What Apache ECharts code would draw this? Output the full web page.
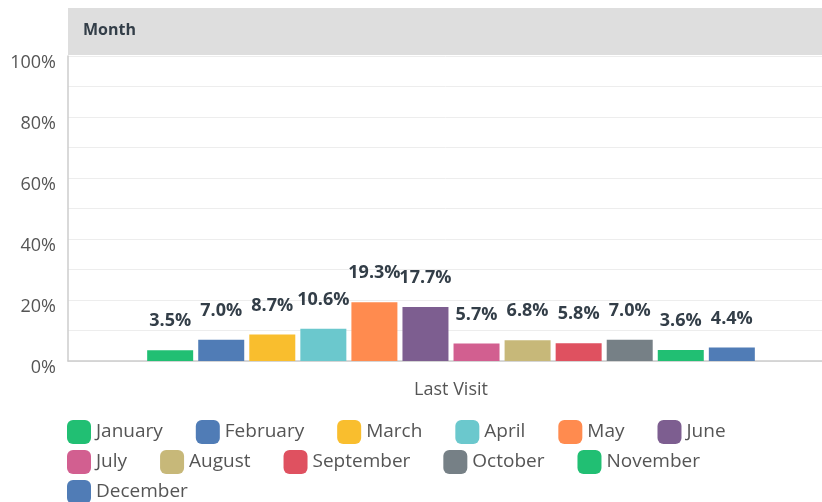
<!DOCTYPE html>
<html>
<head>
<meta charset="utf-8">
<script src="https://cdn.jsdelivr.net/npm/echarts@6/dist/echarts.min.js"></script>
<style>
  html, body { margin: 0; padding: 0; background: #fff; }
  #chart { width: 822px; height: 502px; }
</style>
</head>
<body>
<div id="chart"></div>
<script>
// 数据：Last Visit 按月份分布（%）
const categories = ['Last Visit'];
const months = ['January', 'February', 'March', 'April', 'May', 'June',
  'July', 'August', 'September', 'October', 'November', 'December'];
const values = [3.5, 7.0, 8.7, 10.6, 19.3, 17.7, 5.7, 6.8, 5.8, 7.0, 3.6, 4.4];
const colors = ['#21bf73', '#507cb6', '#f9be2e', '#6bc8cd', '#ff8b4f', '#7d5e90',
  '#d25f90', '#c7b879', '#df5160', '#768086', '#21bf73', '#507cb6'];
const yTicks = [0, 20, 40, 60, 80, 100];
const headerTitle = 'Month';
// 图例分三行
const legendRows = [months.slice(0, 6), months.slice(6, 11), months.slice(11)];

const FONT = '"Open Sans", sans-serif';

const chart = echarts.init(document.getElementById('chart'), null, { renderer: 'canvas' });

const series = months.map((m, i) => ({
  type: 'bar',
  name: m,
  data: [values[i]],
  barWidth: 46,
  barGap: '11%',
  itemStyle: { color: colors[i] },
  label: {
    show: true,
    position: 'top',
    distance: 20,
    formatter: (p) => p.value.toFixed(1) + '%',
    color: '#333e48',
    fontFamily: FONT,
    fontWeight: 'bold',
    fontSize: 18,
  },
}));

const legends = legendRows.map((row, r) => ({
  left: 67,
  top: 420 + r * 30,
  padding: 0,
  itemWidth: 24,
  itemHeight: 24,
  itemGap: 33,
  icon: 'roundRect',
  textStyle: { color: '#555', fontFamily: FONT, fontSize: 19 },
  data: row,
}));

chart.setOption({
  backgroundColor: '#fff',
  animation: false,
  color: colors,
  graphic: [
    {
      type: 'rect',
      left: 68, top: 8,
      shape: { width: 760, height: 47 },
      style: { fill: '#dedede' },
      z: -1,
    },
    {
      type: 'text',
      left: 83, top: 22,
      style: { text: headerTitle, fill: '#333e48', font: 'bold 16px ' + FONT },
    },
  ],
  grid: { left: 68, right: -12, top: 56, height: 305, containLabel: false, outerBoundsMode: 'none' },
  xAxis: {
    type: 'category',
    data: categories,
    axisLine: { lineStyle: { color: '#cccccc', width: 1.5 } },
    axisTick: { show: false },
    axisLabel: { color: '#555', fontFamily: FONT, fontSize: 18, margin: 20 },
  },
  yAxis: {
    type: 'value',
    min: 0,
    max: 100,
    interval: 10,
    axisLine: { show: true, lineStyle: { color: '#cccccc', width: 1.5 } },
    axisTick: { show: false },
    splitLine: { lineStyle: { color: '#ededed' } },
    axisLabel: {
      color: '#555',
      fontFamily: FONT,
      fontSize: 18,
      margin: 12,
      verticalAlign: 'top',
      lineHeight: 14,
      formatter: (v) => (yTicks.includes(v) ? v + '%' : ''),
    },
  },
  legend: legends,
  series,
});
</script>
</body>
</html>
